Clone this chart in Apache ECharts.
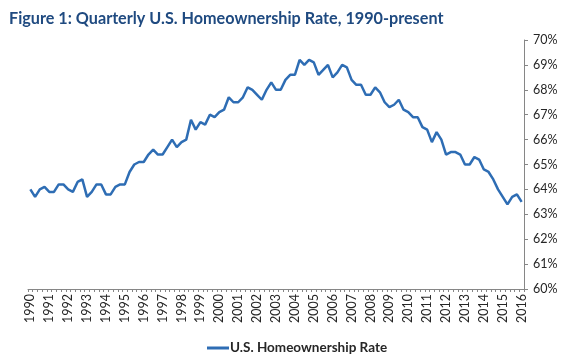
<!DOCTYPE html>
<html>
<head>
<meta charset="utf-8">
<script src="https://cdn.jsdelivr.net/npm/echarts@6/dist/echarts.min.js"></script>
<style>
html,body{margin:0;padding:0;background:#fff;}
#c{width:576px;height:362px;}
</style>
</head>
<body>
<div id="c"></div>
<script>
// Years shown as tick labels (one per Q1)
var years = [1990,1991,1992,1993,1994,1995,1996,1997,1998,1999,2000,2001,2002,2003,2004,2005,2006,2007,2008,2009,2010,2011,2012,2013,2014,2015,2016];
var quarters = ['Q1','Q2','Q3','Q4'];
// Quarterly homeownership rate (%), 1990 Q1 .. 2016 Q1
var rate1990s = [
  64.0,63.7,64.0,64.1, 63.9,63.9,64.2,64.2, 64.0,63.9,64.3,64.4, 63.7,63.9,64.2,64.2,
  63.8,63.8,64.1,64.2, 64.2,64.7,65.0,65.1, 65.1,65.4,65.6,65.4, 65.4,65.7,66.0,65.7,
  65.9,66.0,66.8,66.4, 66.7,66.6,67.0,66.9
];
var rate2000s = [
  67.1,67.2,67.7,67.5, 67.5,67.7,68.1,68.0, 67.8,67.6,68.0,68.3, 68.0,68.0,68.4,68.6,
  68.6,69.2,69.0,69.2, 69.1,68.6,68.8,69.0, 68.5,68.7,69.0,68.9, 68.4,68.2,68.2,67.8,
  67.8,68.1,67.9,67.5, 67.3,67.4,67.6,67.2
];
var rate2010s = [
  67.1,66.9,66.9,66.5, 66.4,65.9,66.3,66.0, 65.4,65.5,65.5,65.4, 65.0,65.0,65.3,65.2,
  64.8,64.7,64.4,64.0, 63.7,63.4,63.7,63.8, 63.5
];
var yTicks = [60,61,62,63,64,65,66,67,68,69,70];
var seriesName = 'U.S. Homeownership Rate';
var titleText = 'Figure 1: Quarterly U.S. Homeownership Rate, 1990-present';

var rates = rate1990s.concat(rate2000s, rate2010s);
var categories = [];
for (var i = 0; i < rates.length; i++) {
  categories.push(years[Math.floor(i / 4)] + ' ' + quarters[i % 4]);
}

var font = 'Lato, "Open Sans", sans-serif';
var chart = echarts.init(document.getElementById('c'), null, {renderer: 'canvas'});
chart.setOption({
  animation: false,
  backgroundColor: '#ffffff',
  title: {
    text: titleText,
    left: 4, top: 6,
    textStyle: {fontFamily: font, fontWeight: 'bold', fontSize: 16.2, color: '#1F4A80'}
  },
  grid: {left: 28, right: 52, top: 40, bottom: 73, containLabel: false},
  legend: {
    data: [seriesName],
    top: 336,
    left: 202,
    icon: 'rect',
    itemWidth: 22, itemHeight: 3,
    itemGap: 4,
    textStyle: {fontFamily: font, fontWeight: 'bold', fontSize: 13.5, color: '#262626', padding: [0,0,0,-4]}
  },
  xAxis: {
    type: 'category',
    data: categories,
    boundaryGap: true,
    axisLine: {lineStyle: {color: '#868686', width: 1}},
    axisTick: {show: true, interval: 0, length: 3, lineStyle: {color: '#868686'}},
    axisLabel: {
      interval: function (idx) { return idx % 4 === 0; },
      formatter: function (v) { return v.split(' ')[0]; },
      rotate: 90,
      margin: 5,
      fontFamily: font, fontSize: 12.5, color: '#262626'
    },
    splitLine: {show: false}
  },
  yAxis: {
    type: 'value',
    position: 'right',
    min: yTicks[0], max: yTicks[yTicks.length - 1], interval: 1,
    axisLine: {show: true, lineStyle: {color: '#868686', width: 1}},
    axisTick: {show: true, length: 4, lineStyle: {color: '#868686'}},
    axisLabel: {formatter: '{value}%', margin: 9, fontFamily: font, fontSize: 12.5, color: '#262626'},
    splitLine: {show: false}
  },
  series: [{
    name: seriesName,
    type: 'line',
    data: rates,
    showSymbol: false,
    symbol: 'none',
    itemStyle: {color: '#2E6DB4'},
    lineStyle: {color: '#2E6DB4', width: 2.5}
  }]
});
</script>
</body>
</html>
